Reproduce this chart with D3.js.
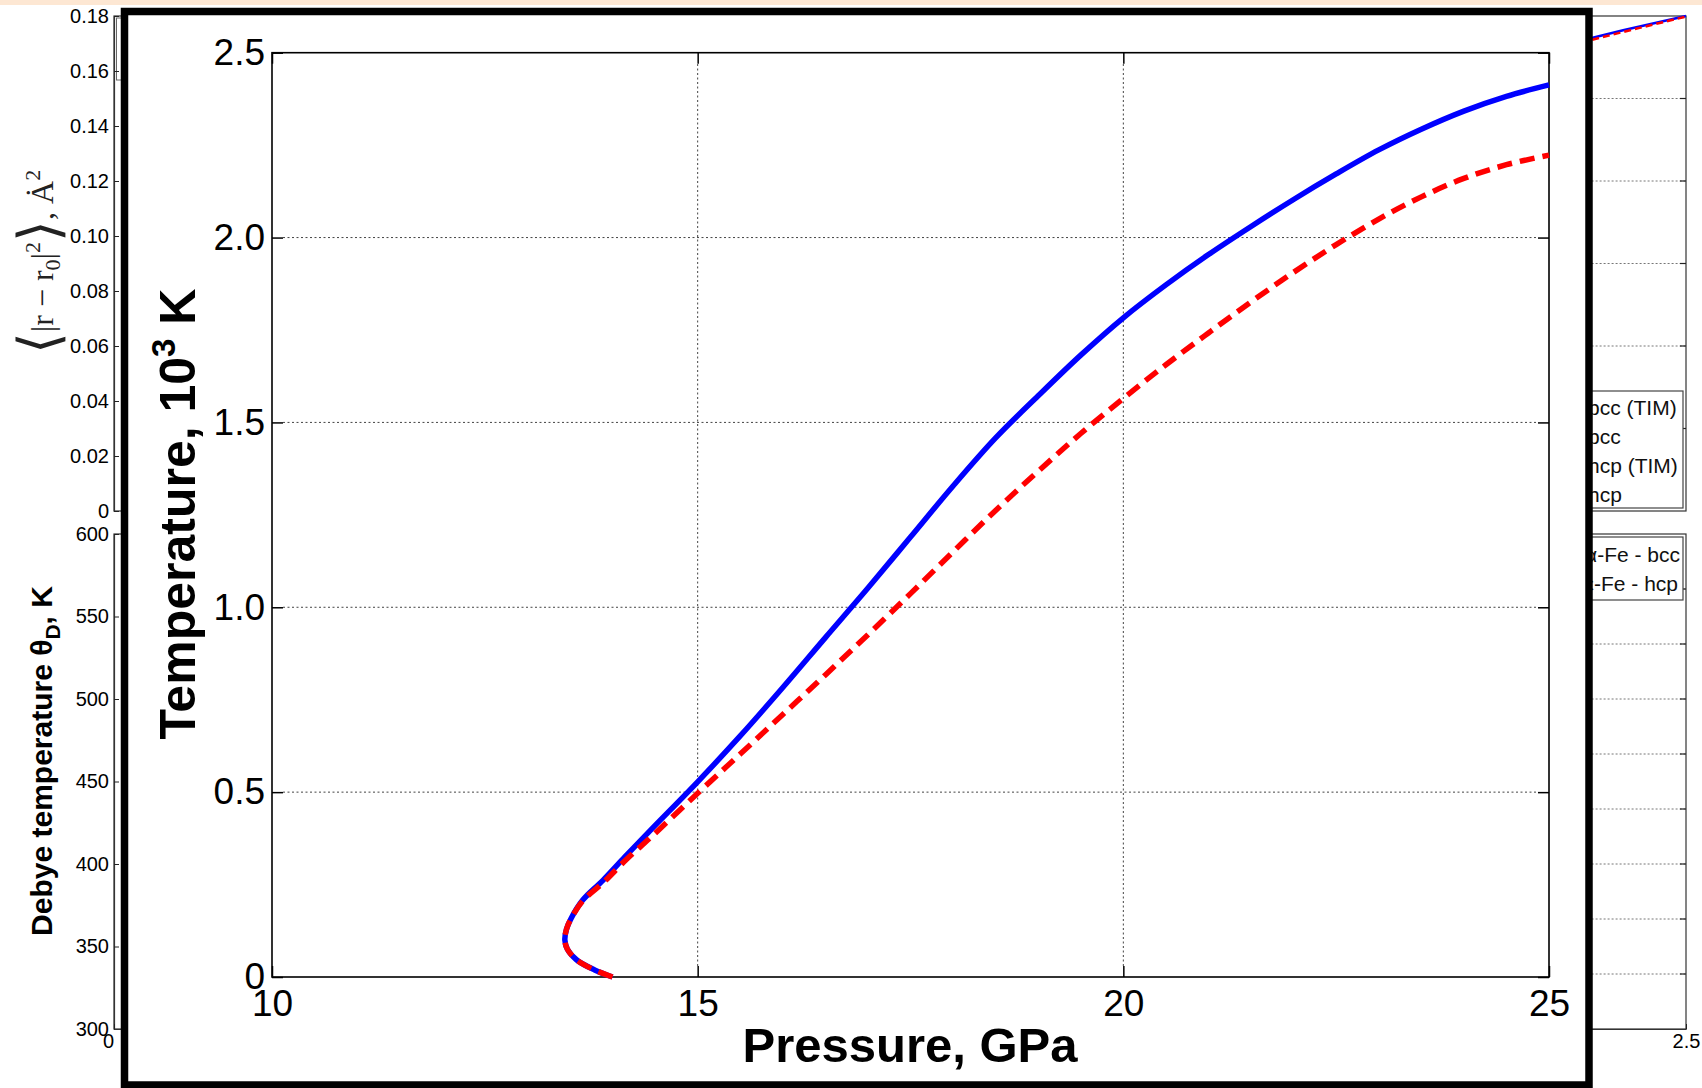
<!DOCTYPE html>
<html><head><meta charset="utf-8">
<script src="https://cdn.jsdelivr.net/npm/d3@7"></script>
<style>html,body{margin:0;padding:0;background:#fff;} svg{display:block;}</style>
</head><body>
<script>
// ---------------- DATA ----------------
// main chart: pressure (GPa) vs temperature (10^3 K)
const xTicks = [10, 15, 20, 25];
const xTickLabels = ["10", "15", "20", "25"];
const yTicks = [0, 0.5, 1.0, 1.5, 2.0, 2.5];
const yTickLabels = ["0", "0.5", "1.0", "1.5", "2.0", "2.5"];

const bluePressure = [14.00, 13.79, 13.58, 13.47, 13.44, 13.46, 13.51, 13.65, 13.89, 14.15, 14.45, 15.00, 15.50, 16.00, 16.50, 17.00, 17.50, 18.00, 18.50, 19.00, 19.50, 20.00, 20.50, 21.00, 21.50, 22.00, 22.50, 23.00, 23.50, 24.00, 24.50, 25.00];
const blueTemp     = [0.000, 0.019, 0.046, 0.075, 0.100, 0.130, 0.157, 0.208, 0.262, 0.326, 0.398, 0.528, 0.652, 0.783, 0.918, 1.052, 1.190, 1.328, 1.458, 1.572, 1.682, 1.783, 1.872, 1.954, 2.030, 2.103, 2.172, 2.237, 2.293, 2.342, 2.382, 2.413];

const redPressure = [14.00, 13.79, 13.58, 13.47, 13.44, 13.46, 13.51, 13.65, 13.89, 14.15, 14.45, 15.00, 15.50, 16.00, 16.50, 17.00, 17.50, 18.00, 18.50, 19.00, 19.50, 20.00, 20.50, 21.00, 21.50, 22.00, 22.50, 23.00, 23.50, 24.00, 24.50, 25.00];
const redTemp     = [0.000, 0.019, 0.046, 0.075, 0.100, 0.130, 0.157, 0.206, 0.255, 0.315, 0.378, 0.497, 0.603, 0.710, 0.817, 0.926, 1.037, 1.150, 1.262, 1.368, 1.470, 1.565, 1.656, 1.742, 1.826, 1.906, 1.981, 2.050, 2.110, 2.160, 2.197, 2.223];

// background (partly hidden) figure
const bgXTicks = [0, 2.5];
const bgXTickLabels = ["0", "2.5"];
const msdTicks = [0, 0.02, 0.04, 0.06, 0.08, 0.10, 0.12, 0.14, 0.16, 0.18];
const msdTickLabels = ["0", "0.02", "0.04", "0.06", "0.08", "0.10", "0.12", "0.14", "0.16", "0.18"];
const debyeTicks = [300, 350, 400, 450, 500, 550, 600];
const debyeTickLabels = ["300", "350", "400", "450", "500", "550", "600"];
const bgTopGrid = [1, 2, 3, 4, 5];
const bgBotGrid = [1, 2, 3, 4, 5, 6, 7, 8];
const bgBlueX = [2.30, 2.40, 2.50];
const bgBlueY = [0.1692, 0.1748, 0.1800];
const bgRedX = [2.30, 2.40, 2.50];
const bgRedY = [0.1684, 0.1742, 0.1798];
const legendTop = ["bcc (TIM)", "bcc", "hcp (TIM)", "hcp"];
const legendBottom = ["α-Fe - bcc", "ε-Fe - hcp"];

// ---------------- DRAW ----------------
const W = 1702, H = 1088;
const svg = d3.select("body").append("svg").attr("width", W).attr("height", H);
svg.append("rect").attr("width", W).attr("height", H).attr("fill", "#fff");
svg.append("rect").attr("width", W).attr("height", 5).attr("fill", "#fde7d3");

const SANS = "Liberation Sans, Arial, Helvetica, sans-serif";

// ---- background figure ----
const bg = svg.append("g");
const bgX = d3.scaleLinear().domain([0, 2.5]).range([114, 1686]);
const bgMsd = d3.scaleLinear().domain([0, 0.18]).range([511, 16]);
const bgDeb = d3.scaleLinear().domain([300, 600]).range([1029, 534]);
const bgTopR = d3.scaleLinear().domain([0, 6]).range([511, 16]);
const bgBotR = d3.scaleLinear().domain([0, 9]).range([1029, 534]);

bg.append("rect").attr("x", bgX(0)).attr("y", bgMsd(0.18)).attr("width", bgX(2.5) - bgX(0)).attr("height", bgMsd(0) - bgMsd(0.18))
  .attr("fill", "none").attr("stroke", "#333").attr("stroke-width", 1.2);
bg.append("rect").attr("x", bgX(0)).attr("y", bgDeb(600)).attr("width", bgX(2.5) - bgX(0)).attr("height", bgDeb(300) - bgDeb(600))
  .attr("fill", "none").attr("stroke", "#333").attr("stroke-width", 1.2);

function bgGrid(vals, sc) {
  vals.forEach(v => {
    bg.append("line").attr("x1", bgX(2.0)).attr("x2", bgX(2.5)).attr("y1", sc(v)).attr("y2", sc(v))
      .attr("stroke", "#777").attr("stroke-width", 1).attr("stroke-dasharray", "2,2");
    bg.append("line").attr("x1", bgX(2.5) - 6).attr("x2", bgX(2.5)).attr("y1", sc(v)).attr("y2", sc(v))
      .attr("stroke", "#222").attr("stroke-width", 1.2);
  });
}
bgGrid(bgTopGrid, bgTopR);
bgGrid(bgBotGrid, bgBotR);

const bgLine = d3.line().x(d => bgX(d[0])).y(d => bgMsd(d[1]));
bg.append("path").datum(bgBlueX.map((v, i) => [v, bgBlueY[i]])).attr("d", bgLine)
  .attr("fill", "none").attr("stroke", "#0000ff").attr("stroke-width", 2.5);
bg.append("path").datum(bgRedX.map((v, i) => [v, bgRedY[i]])).attr("d", bgLine)
  .attr("fill", "none").attr("stroke", "#ff0000").attr("stroke-width", 2.5).attr("stroke-dasharray", "7,4");

const lg1 = bg.append("g");
lg1.append("rect").attr("x", 1380).attr("y", 391).attr("width", 1683 - 1380).attr("height", 117)
  .attr("fill", "#fff").attr("stroke", "#444").attr("stroke-width", 1.2);
legendTop.forEach((t, i) => {
  lg1.append("text").attr("x", 1588).attr("y", 408 + i * 29 + 7).text(t)
    .attr("font-family", SANS).attr("font-size", 21).attr("fill", "#111");
});
const lg2 = bg.append("g");
lg2.append("rect").attr("x", 1380).attr("y", 537).attr("width", 1683 - 1380).attr("height", 63)
  .attr("fill", "#fff").attr("stroke", "#444").attr("stroke-width", 1.2);
legendBottom.forEach((t, i) => {
  lg2.append("text").attr("x", 1680 - i * 2).attr("y", 555 + i * 29 + 7).attr("text-anchor", "end").text(t)
    .attr("font-family", SANS).attr("font-size", 21).attr("fill", "#111");
});
bg.append("rect").attr("x", 116.5).attr("y", 18).attr("width", 200).attr("height", 62)
  .attr("fill", "#fff").attr("stroke", "#666").attr("stroke-width", 1);

function styleAxis(g, size) {
  g.attr("font-family", SANS).attr("font-size", size);
  g.selectAll("text").attr("fill", "#000");
  g.selectAll("line").attr("stroke", "#222");
  g.select(".domain").attr("stroke", "#333").attr("stroke-width", 1.2);
}
const gMsd = bg.append("g").attr("transform", `translate(${bgX(0)},0)`)
  .call(d3.axisLeft(bgMsd).tickValues(msdTicks).tickFormat((d, i) => msdTickLabels[i]).tickSizeInner(-5).tickSizeOuter(0).tickPadding(5));
styleAxis(gMsd, 20);
const gDeb = bg.append("g").attr("transform", `translate(${bgX(0)},0)`)
  .call(d3.axisLeft(bgDeb).tickValues(debyeTicks).tickFormat((d, i) => debyeTickLabels[i]).tickSizeInner(-5).tickSizeOuter(0).tickPadding(5));
styleAxis(gDeb, 20);
const gBgX = bg.append("g").attr("transform", `translate(0,${bgDeb(300)})`)
  .call(d3.axisBottom(bgX).tickValues(bgXTicks).tickFormat((d, i) => bgXTickLabels[i]).tickSizeInner(-5).tickSizeOuter(0).tickPadding(5));
styleAxis(gBgX, 20);
gBgX.selectAll(".tick text").filter((d, i) => i === 0).attr("x", -6);

// background y labels
const msdLab = bg.append("text").attr("transform", "translate(53,262) rotate(-90)").attr("text-anchor", "middle")
  .attr("font-family", "Liberation Serif, DejaVu Serif, serif").attr("font-size", 32).attr("fill", "#222");
msdLab.append("tspan").attr("font-size", 56).attr("font-family", "DejaVu Sans, sans-serif").attr("font-weight", 200).attr("dy", 5).text("⟨");
msdLab.append("tspan").attr("dy", -5).text("|r − r");
msdLab.append("tspan").attr("font-size", 22).attr("dy", 7).text("0");
msdLab.append("tspan").attr("dy", -7).text("|");
msdLab.append("tspan").attr("font-size", 22).attr("dy", -13).text("2");
msdLab.append("tspan").attr("font-size", 56).attr("font-family", "DejaVu Sans, sans-serif").attr("font-weight", 200).attr("dy", 18).text("⟩");
msdLab.append("tspan").attr("dy", -5).text(", Ȧ");
msdLab.append("tspan").attr("font-size", 22).attr("dy", -13).text("2");

const debLab = bg.append("text").attr("transform", "translate(52,761) rotate(-90)").attr("text-anchor", "middle")
  .attr("font-family", SANS).attr("font-weight", "bold").attr("font-size", 30).attr("fill", "#000");
debLab.append("tspan").text("Debye temperature θ");
debLab.append("tspan").attr("font-size", 21).attr("dy", 8).text("D");
debLab.append("tspan").attr("dy", -8).text(", K");

// ---- overlay frame ----
svg.append("rect").attr("x", 124.5).attr("y", 11.5).attr("width", 1589 - 124.5).attr("height", 1085 - 11.5)
  .attr("fill", "#fff").attr("stroke", "#000").attr("stroke-width", 7.5);

// ---- main chart ----
const main = svg.append("g");
const x = d3.scaleLinear().domain([10, 25]).range([272, 1549]);
const y = d3.scaleLinear().domain([0, 2.5]).range([977, 52.7]);
const TL = 11;

const grid = main.append("g").attr("stroke", "#444").attr("stroke-width", 1).attr("stroke-dasharray", "2,2.5");
xTicks.slice(1, -1).forEach(v => grid.append("line").attr("x1", x(v)).attr("x2", x(v)).attr("y1", y(0) - TL).attr("y2", y(2.5) + TL));
yTicks.slice(1, -1).forEach(v => grid.append("line").attr("y1", y(v)).attr("y2", y(v)).attr("x1", x(10) + TL).attr("x2", x(25) - TL));

function styleMain(g) {
  g.attr("font-family", SANS).attr("font-size", 37);
  g.selectAll("text").attr("fill", "#000");
  g.selectAll(".tick line").attr("stroke", "#000").attr("stroke-width", 1.5);
  g.select(".domain").remove();
}
const gx = main.append("g").attr("transform", `translate(0,${y(0)})`)
  .call(d3.axisBottom(x).tickValues(xTicks).tickFormat((d, i) => xTickLabels[i]).tickSizeInner(-TL).tickSizeOuter(0).tickPadding(13));
styleMain(gx);
const gy = main.append("g").attr("transform", `translate(${x(10)},0)`)
  .call(d3.axisLeft(y).tickValues(yTicks).tickFormat((d, i) => yTickLabels[i]).tickSizeInner(-TL).tickSizeOuter(0).tickPadding(7));
styleMain(gy);
const gxt = main.append("g").attr("transform", `translate(0,${y(2.5)})`)
  .call(d3.axisTop(x).tickValues(xTicks).tickFormat("").tickSizeInner(-TL).tickSizeOuter(0));
styleMain(gxt);
const gyr = main.append("g").attr("transform", `translate(${x(25)},0)`)
  .call(d3.axisRight(y).tickValues(yTicks).tickFormat("").tickSizeInner(-TL).tickSizeOuter(0));
styleMain(gyr);

main.append("rect").attr("x", x(10)).attr("y", y(2.5)).attr("width", x(25) - x(10)).attr("height", y(0) - y(2.5))
  .attr("fill", "none").attr("stroke", "#000").attr("stroke-width", 1.6);

const line = d3.line().x(d => x(d[0])).y(d => y(d[1])).curve(d3.curveCatmullRom.alpha(0.5));
main.append("path").datum(bluePressure.map((p, i) => [p, blueTemp[i]])).attr("d", line)
  .attr("fill", "none").attr("stroke", "#0000ff").attr("stroke-width", 5.5);
main.append("path").datum(redPressure.map((p, i) => [p, redTemp[i]])).attr("d", line)
  .attr("fill", "none").attr("stroke", "#ff0000").attr("stroke-width", 5.5).attr("stroke-dasharray", "15,8");

main.append("text").attr("x", 910).attr("y", 1062).attr("text-anchor", "middle")
  .attr("font-family", SANS).attr("font-weight", "bold").attr("font-size", 49)
  .text("Pressure, GPa");
const yl = main.append("text").attr("transform", "translate(195,514) rotate(-90)").attr("text-anchor", "middle")
  .attr("font-family", SANS).attr("font-weight", "bold").attr("font-size", 50);
yl.append("tspan").text("Temperature, 10");
yl.append("tspan").attr("font-size", 33).attr("dy", -20).text("3");
yl.append("tspan").attr("dy", 20).text(" K");
</script>
</body></html>
